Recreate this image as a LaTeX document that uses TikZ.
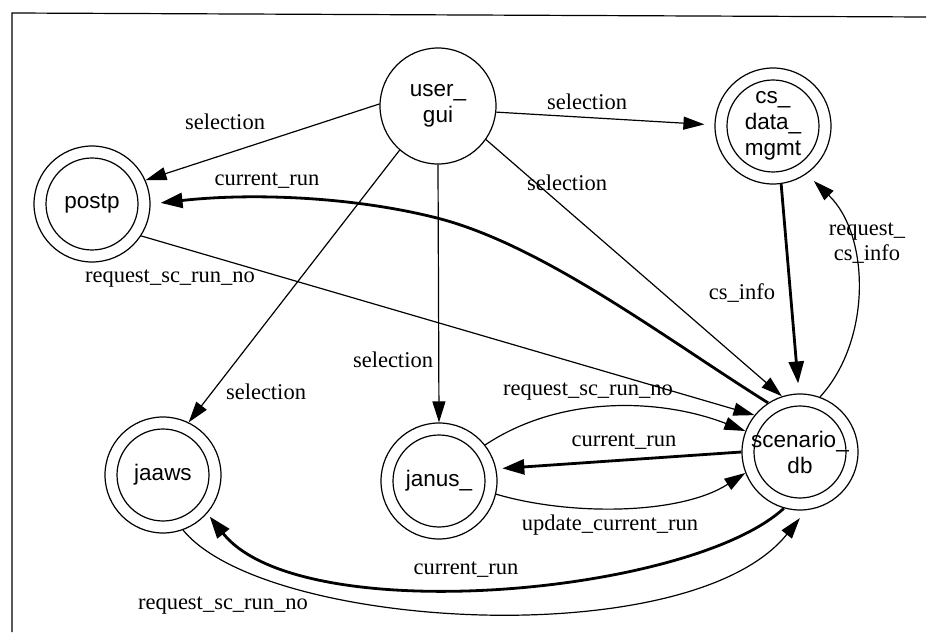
\documentclass[tikz,border=0pt]{standalone}
\usepackage{fontspec}
\setmainfont{Liberation Serif}
\newfontfamily\nodefont{Liberation Sans}
\usetikzlibrary{arrows.meta}
\begin{document}
\begin{tikzpicture}[x=1pt,y=-1pt,
  proc/.style={circle,draw,line width=1.2pt,minimum size=116pt,inner sep=0pt,align=center,font=\nodefont\fontsize{22.5}{26}\selectfont},
  store/.style={proc,path picture={\draw[line width=1.2pt] (path picture bounding box.center) circle[radius=46pt];}},
  lbl/.style={font=\fontsize{22.5}{25}\selectfont,inner sep=1pt,align=center},
  flow/.style={line width=1.2pt,-{Triangle[length=21pt,width=13pt]}},
  heavy/.style={line width=2.8pt,-{Triangle[length=22pt,width=15pt]}},
]
\useasboundingbox (0,0) rectangle (935,644);
% frame
\draw[line width=1.2pt] (926,17) -- (12,13) -- (12,632);

% nodes
\node[proc]  (user) at (438,106) {user\_\\gui};
\node[store] (postp) at (92,204) {postp};
\node[store] (cs) at (773,126) {cs\_\\data\_\\mgmt};
\node[store] (jaaws) at (163,475) {jaaws};
\node[store] (janus) at (439,481) {janus\_};
\node[store] (scen) at (800,452) {scenario\_\\db};

% connectors
\draw[flow] (user.178) -- (postp.24);
\draw[flow,shorten >=10pt] (user.-6) -- (cs.179);
\draw[flow] (user.-35) -- (scen.108);
\draw[flow] (user.-131) -- (jaaws.64);
\draw[flow] (user.-90) -- (janus.90);
\draw[heavy,shorten >=10pt] (scen.123) .. controls (666,339) and (543,245) .. (437,218)
   .. controls (350,196) and (249,193) .. (postp.0);
\draw[flow] (postp.-33) -- (scen.141);
\draw[heavy,shorten >=10pt] (cs.-82) -- (scen.91);
\draw[flow,shorten >=10pt] (scen.70) .. controls (872,340) and (870,235) .. (cs.-55);
\draw[flow] (janus.38) .. controls (560,395) and (660,398) .. (scen.159);
\draw[heavy,shorten >=6pt] (scen.180) -- (janus.12);
\draw[flow] (janus.-13) .. controls (570,516) and (680,515) .. (scen.201);
\draw[heavy,shorten >=4pt] (scen.254) .. controls (690,595) and (300,630) .. (jaaws.-41);
\draw[flow,shorten >=10pt] (jaaws.-70) .. controls (265,630) and (690,655) .. (scen.-84);

% labels
\node[lbl] (l1) at (225,122) {selection};
\node[lbl] (l2) at (587,102) {selection};
\node[lbl] (l3) at (567,183) {selection};
\node[lbl] (l4) at (266,392) {selection};
\node[lbl] (l5) at (393,360) {selection};
\node[lbl] (l6) at (267,181) {current\_run};
\node[lbl] (l7) at (170,279) {request\_sc\_run\_no};
\node[lbl] (l8) at (742,293) {cs\_info};
\node[lbl] (l9) at (867,243) {request\_\\cs\_info};
\node[lbl] (l10) at (588,392) {request\_sc\_run\_no};
\node[lbl] (l11) at (624,442) {current\_run};
\node[lbl] (l12) at (610,525) {update\_current\_run};
\node[lbl] (l13) at (466,570) {current\_run};
\node[lbl] (l14) at (223,606) {request\_sc\_run\_no};
\end{tikzpicture}
\end{document}
